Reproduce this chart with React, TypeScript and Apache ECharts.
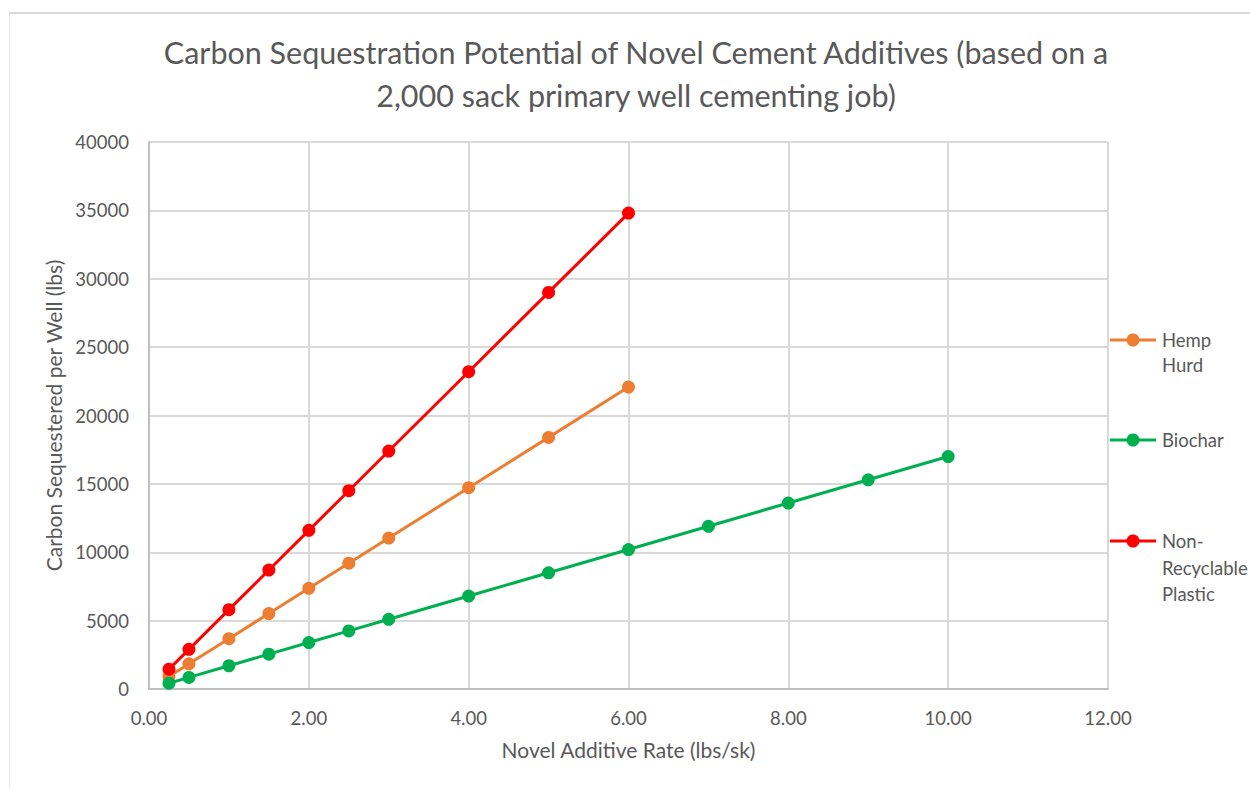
import React, { useEffect, useRef } from "react";
import * as echarts from "echarts";

// Additive rates (lbs/sk)
const ratesShort = [0.25, 0.5, 1, 1.5, 2, 2.5, 3, 4, 5, 6];
const ratesLong = [0.25, 0.5, 1, 1.5, 2, 2.5, 3, 4, 5, 6, 7, 8, 9, 10];

// Carbon sequestered per well (lbs)
const hempHurd = [920, 1840, 3680, 5520, 7360, 9200, 11040, 14720, 18400, 22080];
const biochar = [425, 850, 1700, 2550, 3400, 4250, 5100, 6800, 8500, 10200, 11900, 13600, 15300, 17000];
const plastic = [1450, 2900, 5800, 8700, 11600, 14500, 17400, 23200, 29000, 34800];

const seriesNames = ["Hemp Hurd", "Biochar", "Non-Recyclable Plastic"];
const legendLabels = ["Hemp\nHurd", "Biochar", "Non-\nRecyclable\nPlastic"];
const colors = ["#ED7D31", "#00B050", "#FF0000"];

const FONT = "Lato, 'Open Sans', sans-serif";
const TEXT = "#595959";

const pairs = (xs: number[], ys: number[]) => ys.map((y, i) => [xs[i], y]);

export default function App() {
  const ref = useRef<HTMLDivElement>(null);

  useEffect(() => {
    document.body.style.margin = "0";
    if (!ref.current) return;
    const chart = echarts.init(ref.current, undefined, { renderer: "svg" });

    const legendRows = [
      { y: 340, lh: 25 },
      { y: 440, lh: 25 },
      { y: 541, lh: 26.5 },
    ];
    const legendGraphics: any[] = [];
    legendRows.forEach((row, i) => {
      legendGraphics.push({
        type: "line",
        shape: { x1: 1110, y1: row.y, x2: 1156, y2: row.y },
        style: { stroke: colors[i], lineWidth: 3 },
      });
      legendGraphics.push({
        type: "circle",
        shape: { cx: 1133, cy: row.y, r: 6.5 },
        style: { fill: colors[i] },
      });
      legendGraphics.push({
        type: "text",
        x: 1162,
        y: row.y - row.lh / 2,
        style: {
          text: legendLabels[i],
          fill: TEXT,
          fontSize: 18.5,
          fontFamily: FONT,
          lineHeight: row.lh,
          verticalAlign: "top",
        },
      });
    });

    chart.setOption({
      animation: false,
      backgroundColor: "#ffffff",
      title: {
        text: "Carbon Sequestration Potential of Novel Cement Additives (based on a\n2,000 sack primary well cementing job)",
        left: 631,
        top: 25,
        textAlign: "center",
        textStyle: {
          color: TEXT,
          fontSize: 30.5,
          fontWeight: "normal",
          fontFamily: FONT,
          lineHeight: 43,
        },
      },
      grid: { left: 149, right: 142, top: 142, bottom: 99, containLabel: false },
      xAxis: {
        type: "value",
        min: 0,
        max: 12,
        interval: 2,
        name: "Novel Additive Rate (lbs/sk)",
        nameLocation: "middle",
        nameGap: 50,
        nameTextStyle: { color: TEXT, fontSize: 21, fontFamily: FONT },
        axisLine: { show: true, lineStyle: { color: "#bfbfbf", width: 2 } },
        axisTick: { show: false },
        axisLabel: {
          color: TEXT,
          fontSize: 18.5,
          fontFamily: FONT,
          margin: 19,
          formatter: (v: number) => v.toFixed(2),
        },
        splitLine: { show: true, lineStyle: { color: "#d9d9d9", width: 2 } },
      },
      yAxis: {
        type: "value",
        min: 0,
        max: 40000,
        interval: 5000,
        name: "Carbon Sequestered per Well (lbs)",
        nameLocation: "middle",
        nameGap: 83,
        nameTextStyle: { color: TEXT, fontSize: 21, fontFamily: FONT },
        axisLine: { show: true, lineStyle: { color: "#bfbfbf", width: 2 } },
        axisTick: { show: false },
        axisLabel: {
          color: TEXT,
          fontSize: 18.5,
          fontFamily: FONT,
          margin: 20,
          formatter: (v: number) => String(v),
        },
        splitLine: { show: true, lineStyle: { color: "#d9d9d9", width: 2 } },
      },
      series: [
        { name: seriesNames[0], data: pairs(ratesShort, hempHurd) },
        { name: seriesNames[1], data: pairs(ratesLong, biochar) },
        { name: seriesNames[2], data: pairs(ratesShort, plastic) },
      ].map((s, i) => ({
        ...s,
        type: "line",
        symbol: "circle",
        symbolSize: 13,
        showSymbol: true,
        lineStyle: { color: colors[i], width: 3 },
        itemStyle: { color: colors[i] },
        emphasis: { disabled: true },
      })),
      graphic: [
        {
          type: "line",
          shape: { x1: 9, y1: 13, x2: 1250, y2: 13 },
          style: { stroke: "#d9d9d9", lineWidth: 2 },
        },
        {
          type: "line",
          shape: { x1: 9.5, y1: 13, x2: 9.5, y2: 788 },
          style: { stroke: "#e3e3e3", lineWidth: 1 },
        },
        ...legendGraphics,
      ],
    });

    return () => chart.dispose();
  }, []);

  return <div ref={ref} style={{ width: 1250, height: 788 }} />;
}
